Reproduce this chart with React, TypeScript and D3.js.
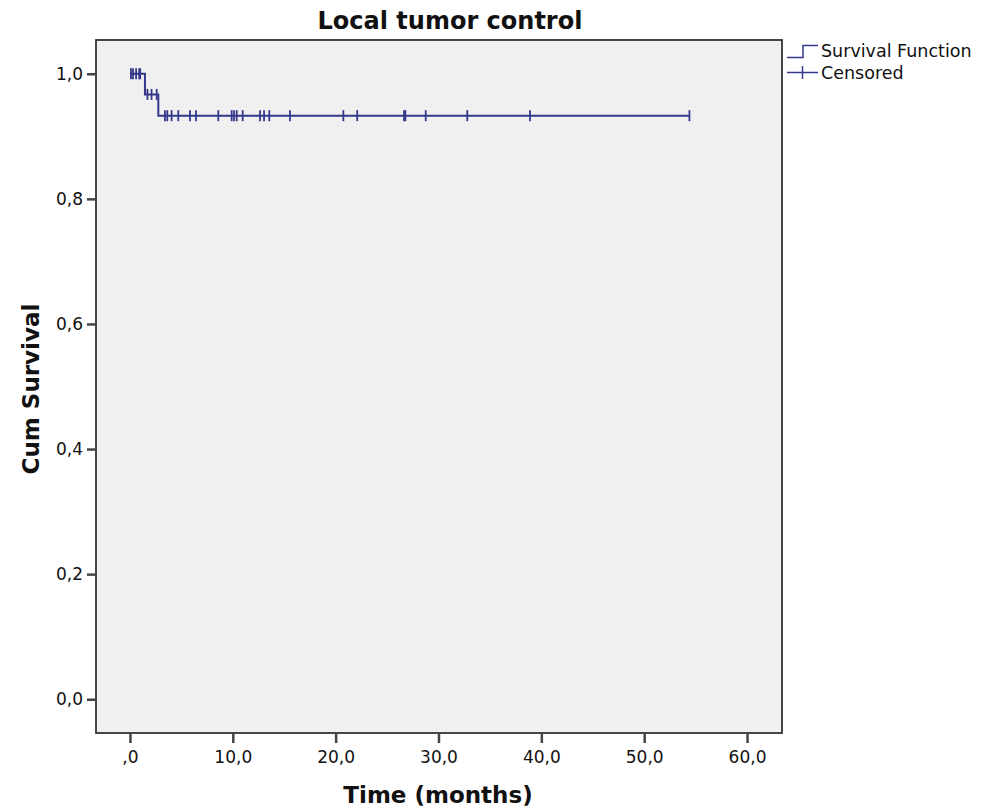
import { useEffect, useRef } from 'react';
import * as d3 from 'd3';

// Kaplan-Meier step levels (event times in months)
const stepTimes = [0, 1.46, 2.76];
const stepSurvival = [1.0, 0.967, 0.933];
const lastTime = 54.4;

// censored observation times (months)
const censoredTimes = [
  0.1, 0.3, 0.6, 0.9, 1.0, 1.7, 2.1, 2.6, 3.4, 3.63, 4.05, 4.7, 5.84, 6.42, 8.59, 9.89,
  10.12, 10.38, 10.96, 12.65, 13.04, 13.55, 15.56, 20.75, 22.1, 26.65, 26.78, 28.76, 32.8,
  38.9, 54.4,
];

const xTicks = [0, 10, 20, 30, 40, 50, 60];
const yTicks = [0, 0.2, 0.4, 0.6, 0.8, 1.0];

export default function App() {
  const svgRef = useRef<SVGSVGElement>(null);

  useEffect(() => {
    document.body.style.margin = '0';
    const width = 986;
    const height = 809;
    const plot = { left: 96, right: 782, top: 40, bottom: 733 };
    const font = 'DejaVu Sans, sans-serif';
    const lineColor = '#35388a';

    const svg = d3.select(svgRef.current);
    svg.attr('width', width).attr('height', height);
    svg.selectAll('*').remove();

    svg.append('rect').attr('width', width).attr('height', height).attr('fill', '#fff');

    const x = d3.scaleLinear().domain([-3.3, 63.4]).range([plot.left, plot.right]);
    const y = d3.scaleLinear().domain([-0.054, 1.054]).range([plot.bottom, plot.top]);

    svg
      .append('rect')
      .attr('x', plot.left)
      .attr('y', plot.top)
      .attr('width', plot.right - plot.left)
      .attr('height', plot.bottom - plot.top)
      .attr('fill', '#f0f0f0')
      .attr('stroke', '#333')
      .attr('stroke-width', 1.8);

    // axes
    const xAxis = svg
      .append('g')
      .attr('transform', `translate(0,${plot.bottom})`)
      .call(
        d3
          .axisBottom(x)
          .tickValues(xTicks)
          .tickSize(10)
          .tickPadding(8)
          .tickFormat((d) => (d === 0 ? ',0' : (d as number).toFixed(1).replace('.', ','))),
      );
    xAxis.select('.domain').remove();
    xAxis.selectAll('line').attr('stroke', '#444').attr('stroke-width', 2.5);
    xAxis
      .selectAll('text')
      .attr('font-family', font)
      .attr('font-size', 17)
      .attr('fill', '#111');

    const yAxis = svg
      .append('g')
      .attr('transform', `translate(${plot.left},0)`)
      .call(
        d3
          .axisLeft(y)
          .tickValues(yTicks)
          .tickSize(9)
          .tickPadding(4)
          .tickFormat((d) => (d as number).toFixed(1).replace('.', ',')),
      );
    yAxis.select('.domain').remove();
    yAxis.selectAll('line').attr('stroke', '#444').attr('stroke-width', 2.5);
    yAxis
      .selectAll('text')
      .attr('font-family', font)
      .attr('font-size', 17)
      .attr('fill', '#111');

    // survival step curve
    const pts: [number, number][] = stepTimes.map((t, i) => [t, stepSurvival[i]]);
    pts.push([lastTime, stepSurvival[stepSurvival.length - 1]]);
    const line = d3
      .line<[number, number]>()
      .x((d) => x(d[0]))
      .y((d) => y(d[1]))
      .curve(d3.curveStepAfter);
    svg
      .append('path')
      .datum(pts)
      .attr('fill', 'none')
      .attr('stroke', lineColor)
      .attr('stroke-width', 2)
      .attr('d', line);

    const survAt = (t: number) => {
      let s = stepSurvival[0];
      stepTimes.forEach((st, i) => {
        if (t >= st) s = stepSurvival[i];
      });
      return s;
    };

    svg
      .append('g')
      .selectAll('line')
      .data(censoredTimes)
      .join('line')
      .attr('x1', (d) => x(d))
      .attr('x2', (d) => x(d))
      .attr('y1', (d) => y(survAt(d)) - 5.5)
      .attr('y2', (d) => y(survAt(d)) + 5.5)
      .attr('stroke', lineColor)
      .attr('stroke-width', 1.8);

    // title and axis labels
    const bold = (t: d3.Selection<SVGTextElement, unknown, null, undefined>) =>
      t
        .attr('text-anchor', 'middle')
        .attr('font-family', font)
        .attr('font-weight', 'bold')
        .attr('fill', '#111');

    svg.append('text').attr('x', 450).attr('y', 29).attr('font-size', 24)
      .call(bold).text('Local tumor control');

    svg.append('text').attr('x', 438).attr('y', 803).attr('font-size', 23)
      .call(bold).text('Time (months)');

    svg.append('text').attr('transform', `translate(39,389) rotate(-90)`).attr('font-size', 23)
      .call(bold).text('Cum Survival');

    // legend
    const lg = svg.append('g');
    lg.append('path')
      .attr('d', 'M787,57.5H803V45.5H818')
      .attr('fill', 'none')
      .attr('stroke', lineColor)
      .attr('stroke-width', 1.5);
    lg.append('path')
      .attr('d', 'M787,72.5H818M802.5,66V79')
      .attr('fill', 'none')
      .attr('stroke', lineColor)
      .attr('stroke-width', 1.5);
    lg.append('text')
      .attr('x', 821)
      .attr('y', 57)
      .attr('font-family', font)
      .attr('font-size', 17.5)
      .attr('fill', '#111')
      .text('Survival Function');
    lg.append('text')
      .attr('x', 821)
      .attr('y', 79)
      .attr('font-family', font)
      .attr('font-size', 17.5)
      .attr('fill', '#111')
      .text('Censored');
  }, []);

  return <svg ref={svgRef} style={{ display: 'block' }}></svg>;
}
